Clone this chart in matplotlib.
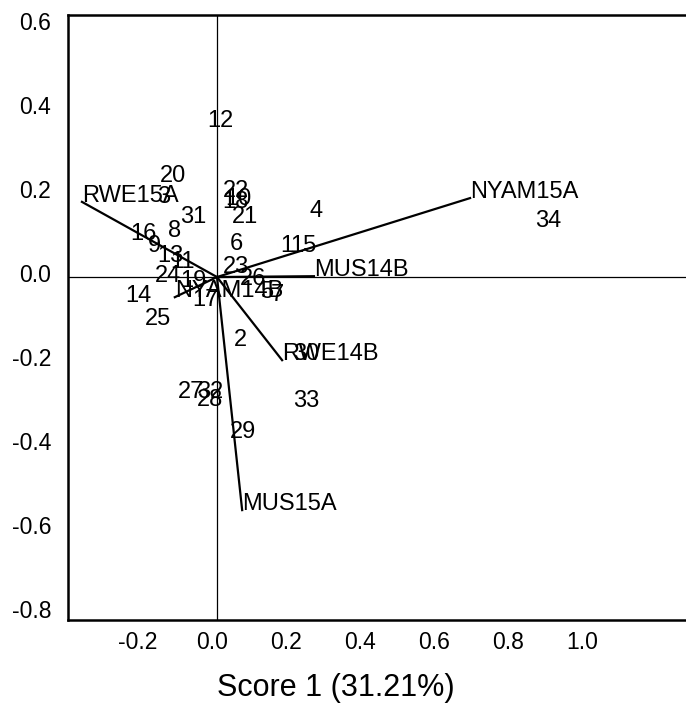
import matplotlib
matplotlib.use("Agg")
import matplotlib.pyplot as plt
from matplotlib.transforms import ScaledTranslation

plt.rcParams['font.family'] = ['Liberation Sans', 'DejaVu Sans']

# sample scores (label position = score point)
obs_ids = [str(i) for i in range(1, 35)]
score1 = [0.170, 0.046, -0.162, 0.251, 0.116, 0.035, 0.146, -0.132, -0.186, 0.022,
          -0.127, -0.027, -0.162, -0.249, 0.197, -0.235, -0.068, 0.014, -0.100, -0.154,
          0.041, 0.016, 0.016, -0.168, -0.195, 0.062, -0.105, -0.054, 0.035, 0.205,
          -0.100, -0.054, 0.205, 0.859]
score2 = [0.060, -0.164, 0.176, 0.143, -0.050, 0.064, -0.057, 0.095, 0.060, 0.171,
          0.021, 0.357, 0.036, -0.060, 0.060, 0.088, -0.069, 0.164, -0.024, 0.226,
          0.129, 0.190, 0.010, -0.012, -0.114, -0.019, -0.288, -0.307, -0.383, -0.198,
          0.129, -0.288, -0.310, 0.119]

# variable loadings
var_names = ['RWE15A', 'NYAM15A', 'MUS14B', 'RWE14B', 'MUS15A', 'NYAM14B']
load1 = [-0.365, 0.684, 0.262, 0.176, 0.068, -0.114]
load2 = [0.179, 0.188, 0.002, -0.198, -0.555, -0.048]

x_ticks = [-0.2, 0.0, 0.2, 0.4, 0.6, 0.8, 1.0]
y_ticks = [-0.8, -0.6, -0.4, -0.2, 0.0, 0.2, 0.4, 0.6]

fig = plt.figure(figsize=(6.86, 7.19), dpi=100)
ax = fig.add_axes([68 / 686, 99 / 719, 618 / 686, 605 / 719])

ax.axhline(0, color='black', lw=0.9, zorder=1)
ax.axvline(0, color='black', lw=0.9, zorder=1)

for name, lx, ly in zip(var_names, load1, load2):
    ax.plot([0, lx], [0, ly], color='black', lw=1.6, zorder=2)
    ax.text(lx, ly, name, fontsize=17, ha='left', va='baseline', color='black')

for lab, sx, sy in zip(obs_ids, score1, score2):
    ax.text(sx, sy, lab, fontsize=17, ha='left', va='baseline', color='black')

ax.set_xlim(-0.4027, 1.2676)
ax.set_ylim(-0.8167, 0.624)
ax.set_xticks(x_ticks)
ax.set_yticks(y_ticks)
ax.set_xticklabels([f'{v:.1f}' for v in x_ticks])
ax.set_yticklabels([f'{v:.1f}' for v in y_ticks])
ax.tick_params(axis='x', length=0, pad=8, labelsize=16.5)
ax.tick_params(axis='y', length=0, pad=12, labelsize=16.5)

# tick labels sit slightly left / up of their values
for t in ax.get_xticklabels():
    t.set_transform(t.get_transform() + ScaledTranslation(-5 / 100, 0, fig.dpi_scale_trans))
for t in ax.get_yticklabels():
    t.set_transform(t.get_transform() + ScaledTranslation(0, 4 / 100, fig.dpi_scale_trans))

for side in ['left', 'bottom', 'top']:
    ax.spines[side].set_linewidth(1.8)
ax.spines['right'].set_visible(False)

ax.set_xlabel('Score 1 (31.21%)', fontsize=22, va='center')
ax.xaxis.set_label_coords((336 - 68) / 618, -0.112)

fig.savefig('out.png', dpi=100)
